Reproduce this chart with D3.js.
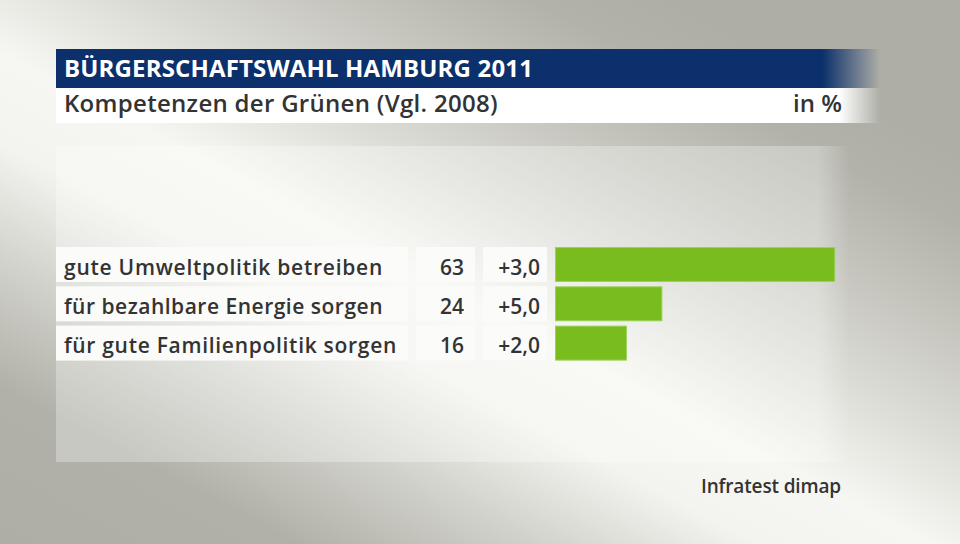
<!DOCTYPE html>
<html>
<head>
<meta charset="utf-8">
<script src="https://cdn.jsdelivr.net/npm/d3@7"></script>
<style>
  html, body { margin: 0; padding: 0; background: #b0b0a8; }
  svg { display: block; }
</style>
</head>
<body>
<svg id="chart" width="960" height="544"></svg>
<script>
const TITLE = "BÜRGERSCHAFTSWAHL HAMBURG 2011";
const SUBTITLE = "Kompetenzen der Grünen (Vgl. 2008)";
const UNIT = "in %";
const SOURCE = "Infratest dimap";

const categories = [
  "gute Umweltpolitik betreiben",
  "für bezahlbare Energie sorgen",
  "für gute Familienpolitik sorgen"
];
const values = [63, 24, 16];
const changes = ["+3,0", "+5,0", "+2,0"];

const FONT = "'Open Sans', 'DejaVu Sans', sans-serif";
const GREEN = "#78bc1e";
const INK = "#333333";

const svg = d3.select("#chart");
const defs = svg.append("defs");

// stretch a start-anchored text to end at xEnd by letter spacing
function fitTo(sel, xEnd) {
  sel.each(function () {
    const el = d3.select(this);
    const x0 = +el.attr("x");
    const w = this.getComputedTextLength();
    const n = el.text().length;
    el.attr("letter-spacing", (xEnd - x0 - w) / n);
  });
}

// background: light diagonal band from top left to bottom right
const bg = defs.append("linearGradient").attr("id", "bg")
  .attr("gradientUnits", "userSpaceOnUse")
  .attr("x1", 263).attr("y1", 689).attr("x2", 637).attr("y2", -19);
[[0, "#aeaea6"], [0.18, "#b1b1a9"], [0.32, "#d2d2cc"], [0.45, "#f3f4ef"], [0.55, "#f6f7f2"],
 [0.68, "#dcdcd6"], [0.8, "#c6c6bf"], [0.92, "#b2b2aa"], [1, "#aeaea6"]]
  .forEach(([o, c]) => bg.append("stop").attr("offset", o).attr("stop-color", c));
svg.append("rect").attr("width", 960).attr("height", 544).attr("fill", "url(#bg)");

function fadeRight(id, color, opacity, start, end) {
  const g = defs.append("linearGradient").attr("id", id)
    .attr("gradientUnits", "userSpaceOnUse")
    .attr("x1", 56).attr("x2", end).attr("y1", 0).attr("y2", 0);
  g.append("stop").attr("offset", 0).attr("stop-color", color).attr("stop-opacity", opacity);
  g.append("stop").attr("offset", start).attr("stop-color", color).attr("stop-opacity", opacity);
  g.append("stop").attr("offset", 1).attr("stop-color", color).attr("stop-opacity", 0);
}
fadeRight("titleFade", "#0b306b", 1, 0.93, 880);
fadeRight("subFade", "#ffffff", 1, 0.95, 880);
fadeRight("panelFade", "#ffffff", 0.3, 0.96, 850);

// panel
svg.append("rect").attr("x", 56).attr("y", 146).attr("width", 794).attr("height", 316)
  .attr("fill", "url(#panelFade)");

// header
svg.append("rect").attr("x", 56).attr("y", 49).attr("width", 824).attr("height", 39)
  .attr("fill", "url(#titleFade)");
svg.append("rect").attr("x", 56).attr("y", 88).attr("width", 824).attr("height", 35)
  .attr("fill", "url(#subFade)");

svg.append("text").attr("x", 64).attr("y", 77)
  .attr("font-family", FONT).attr("font-weight", 700).attr("font-size", 24)
  .attr("fill", "#ffffff")
  .text(TITLE)
  .call(fitTo, 533);
svg.append("text").attr("x", 64).attr("y", 112)
  .attr("font-family", FONT).attr("font-weight", 600).attr("font-size", 24)
  .attr("fill", INK)
  .text(SUBTITLE)
  .call(fitTo, 498);
svg.append("text").attr("x", 842).attr("y", 112).attr("text-anchor", "end")
  .attr("font-family", FONT).attr("font-weight", 600).attr("font-size", 24)
  .attr("fill", INK)
  .text(UNIT);

// scales
const y = d3.scaleBand().domain(categories).range([247, 360.6]).paddingInner(0.11).paddingOuter(0);
const x = d3.scaleLinear().domain([0, 100]).range([555.5, 555.5 + 443.3]);

const rows = svg.append("g").selectAll("g").data(categories).join("g")
  .attr("transform", d => `translate(0,${y(d)})`);

rows.append("rect").attr("x", 56).attr("width", 352).attr("height", y.bandwidth())
  .attr("fill", "#fbfbf9");
rows.append("rect").attr("x", 416).attr("width", 59).attr("height", y.bandwidth())
  .attr("fill", "#fbfbf9");
rows.append("rect").attr("x", 483).attr("width", 64).attr("height", y.bandwidth())
  .attr("fill", "#fbfbf9");

const labelEnds = [383, 383, 397];
const textY = 27.5;
rows.append("text").attr("x", 64).attr("y", textY)
  .attr("font-family", FONT).attr("font-weight", 600).attr("font-size", 21)
  .attr("fill", INK)
  .text(d => d)
  .each(function (d, i) { fitTo(d3.select(this), labelEnds[i]); });
rows.append("text").attr("x", 464).attr("y", textY).attr("text-anchor", "end")
  .attr("font-family", FONT).attr("font-weight", 600).attr("font-size", 21)
  .attr("fill", INK)
  .text((d, i) => values[i]);
rows.append("text").attr("x", 540).attr("y", textY).attr("text-anchor", "end")
  .attr("font-family", FONT).attr("font-weight", 600).attr("font-size", 21)
  .attr("fill", INK)
  .text((d, i) => changes[i]);

rows.append("rect").attr("x", x(0)).attr("y", 0.5)
  .attr("width", (d, i) => x(values[i]) - x(0)).attr("height", y.bandwidth() - 1)
  .attr("fill", GREEN).attr("stroke", "#9ad35a").attr("stroke-width", 1);

svg.append("text").attr("x", 701).attr("y", 493)
  .attr("font-family", FONT).attr("font-weight", 600).attr("font-size", 19)
  .attr("fill", INK)
  .text(SOURCE)
  .call(fitTo, 841);
</script>
</body>
</html>
